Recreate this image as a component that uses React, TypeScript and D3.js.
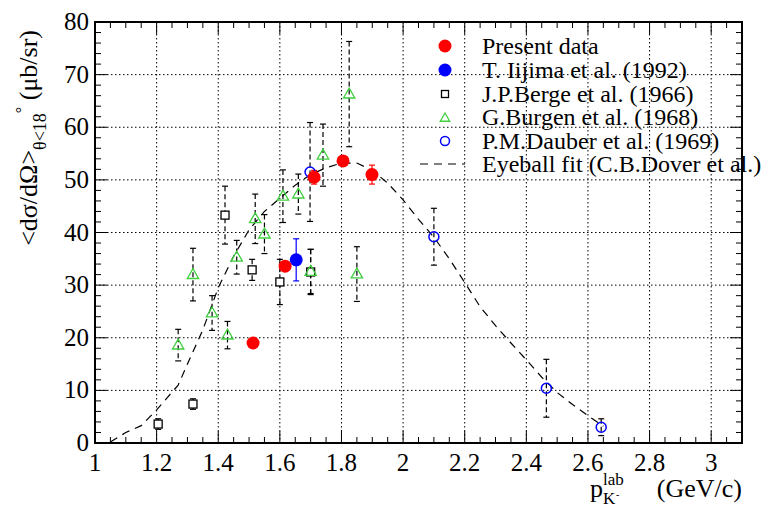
import React from "react";
import * as d3 from "d3";

// ---- Data ----
const presentX = [1.513, 1.617, 1.711, 1.805, 1.899];
const presentY = [19.0, 33.6, 50.5, 53.6, 51.0];
const presentErr = [0, 0, 1.3, 0, 1.8];

const iijimaX = [1.653];
const iijimaY = [34.8];
const iijimaErr = [4.0];

const bergeX = [1.205, 1.318, 1.422, 1.51, 1.60, 1.70];
const bergeY = [3.6, 7.4, 43.3, 32.9, 30.6, 32.5];
const bergeErr = [1.0, 1.0, 5.5, 2.0, 4.3, 4.3];

const burgenX = [1.27, 1.318, 1.38, 1.43, 1.46, 1.52, 1.55, 1.61, 1.66, 1.70, 1.74, 1.825, 1.85];
const burgenY = [18.6, 32.0, 24.7, 20.5, 35.3, 42.6, 39.7, 46.9, 47.3, 32.6, 54.7, 66.3, 32.1];
const burgenErr = [3.0, 5.0, 3.3, 2.6, 3.2, 4.7, 3.7, 5.0, 3.8, 4.2, 5.9, 10.0, 5.2];

const dauberX = [1.698, 2.10, 2.465, 2.643];
const dauberY = [51.5, 39.2, 10.4, 3.0];
const dauberErr = [9.4, 5.4, 5.5, 1.6];

const fitX = [1.05, 1.10, 1.15, 1.20, 1.27, 1.30, 1.35, 1.40, 1.45, 1.50, 1.55, 1.60, 1.65, 1.70, 1.75, 1.80, 1.85, 1.90, 1.95, 2.00, 2.05, 2.10, 2.15, 2.20, 2.25, 2.30, 2.35, 2.40, 2.45, 2.50, 2.55, 2.60, 2.65];
const fitY = [0.2, 2.0, 3.3, 6.3, 11.0, 15.0, 21.5, 29.5, 35.5, 40.5, 44.0, 46.5, 49.0, 51.0, 52.3, 53.2, 53.2, 51.8, 49.4, 46.2, 42.5, 39.1, 35.0, 30.5, 25.9, 22.3, 19.0, 15.8, 12.5, 9.6, 7.3, 5.2, 3.2];

const xTicks = [1, 1.2, 1.4, 1.6, 1.8, 2, 2.2, 2.4, 2.6, 2.8, 3];
const yTicks = [0, 10, 20, 30, 40, 50, 60, 70, 80];

const legendLabels = [
  "Present data",
  "T. Iijima et al. (1992)",
  "J.P.Berge et al. (1966)",
  "G.Burgen et al. (1968)",
  "P.M.Dauber et al. (1969)",
  "Eyeball fit (C.B.Dover et al.)",
];

const RED = "#ff0000";
const BLUE = "#0000ff";
const GREEN = "#3fcf3f";
const FONT = "Liberation Serif, Times New Roman, Times, DejaVu Serif, serif";

export default function App() {
  const W = 780, H = 508;
  const L = 95, R = 742, T = 22, B = 443;
  const x = d3.scaleLinear().domain([1, 3.1]).range([L, R]);
  const y = d3.scaleLinear().domain([0, 80]).range([B, T]);

  const xMinor = d3.range(0, 43).map((i) => 1 + i * 0.05).filter((v) => v <= 3.1 + 1e-9);
  const yMinor = d3.range(0, 41).map((i) => i * 2);

  const fitLine = d3.line<number>().x((_, i) => x(fitX[i])).y((_, i) => y(fitY[i]))(fitX) || "";

  const errBars = (xs: number[], ys: number[], es: number[], color: string, dashed: boolean, key: string) =>
    xs.map((xv, i) => {
      if (!es[i]) return null;
      const px = x(xv);
      const y1 = y(ys[i] + es[i]);
      const y2 = y(ys[i] - es[i]);
      return (
        <g key={key + i} stroke={color} strokeWidth={1.2}>
          <line x1={px} x2={px} y1={y1} y2={y2} strokeDasharray={dashed ? "5,3" : undefined} />
          <line x1={px - 3} x2={px + 3} y1={y1} y2={y1} />
          <line x1={px - 3} x2={px + 3} y1={y2} y2={y2} />
        </g>
      );
    });

  const tri = (cx: number, cy: number, s: number) =>
    `M${cx},${cy - s} L${cx + s * 0.95},${cy + s * 0.65} L${cx - s * 0.95},${cy + s * 0.65} Z`;

  const legY = [46, 70, 94, 117, 141, 164];
  const ts = { fontFamily: FONT };

  return (
    <svg width={W} height={H} style={{ position: "absolute", left: 0, top: 0, background: "#fff", fontFamily: FONT }}>
      <rect x={0} y={0} width={W} height={H} fill="#fff" />
      {/* grid */}
      <g stroke="#000" strokeWidth={1} strokeDasharray="1.5,2.5">
        {xTicks.filter((v) => v > 1 && v < 3.1).map((v) => (
          <line key={"gx" + v} x1={x(v)} x2={x(v)} y1={T} y2={B} />
        ))}
        {yTicks.filter((v) => v > 0 && v < 80).map((v) => (
          <line key={"gy" + v} x1={L} x2={R} y1={y(v)} y2={y(v)} />
        ))}
      </g>
      {/* ticks */}
      <g stroke="#000" strokeWidth={1}>
        {xMinor.map((v, i) => {
          const major = xTicks.some((t) => Math.abs(t - v) < 1e-6);
          const len = major ? 12 : 6;
          return (
            <g key={"xt" + i}>
              <line x1={x(v)} x2={x(v)} y1={B} y2={B - len} />
              <line x1={x(v)} x2={x(v)} y1={T} y2={T + len} />
            </g>
          );
        })}
        {yMinor.map((v, i) => {
          const major = v % 10 === 0;
          const len = major ? 12 : 6;
          return (
            <g key={"yt" + i}>
              <line x1={L} x2={L + len} y1={y(v)} y2={y(v)} />
              <line x1={R} x2={R - len} y1={y(v)} y2={y(v)} />
            </g>
          );
        })}
      </g>
      {/* fit line */}
      <path d={fitLine} fill="none" stroke="#000" strokeWidth={1.2} strokeDasharray="8,6" />
      {/* error bars */}
      {errBars(bergeX, bergeY, bergeErr, "#000", true, "be")}
      {errBars(burgenX, burgenY, burgenErr, "#000", true, "bu")}
      {errBars(dauberX, dauberY, dauberErr, "#000", true, "da")}
      {errBars(iijimaX, iijimaY, iijimaErr, BLUE, false, "ii")}
      {errBars(presentX, presentY, presentErr, RED, false, "pr")}
      {/* markers */}
      {bergeX.map((v, i) => (
        <rect key={"bs" + i} x={x(v) - 4} y={y(bergeY[i]) - 4} width={8} height={8} fill="#fff" stroke="#000" strokeWidth={1.3} />
      ))}
      {burgenX.map((v, i) => (
        <path key={"gt" + i} d={tri(x(v), y(burgenY[i]), 6)} fill="none" stroke={GREEN} strokeWidth={1.3} />
      ))}
      {dauberX.map((v, i) => (
        <circle key={"dc" + i} cx={x(v)} cy={y(dauberY[i])} r={5} fill="none" stroke={BLUE} strokeWidth={1.5} />
      ))}
      {iijimaX.map((v, i) => (
        <circle key={"ic" + i} cx={x(v)} cy={y(iijimaY[i])} r={6.5} fill={BLUE} />
      ))}
      {presentX.map((v, i) => (
        <circle key={"pc" + i} cx={x(v)} cy={y(presentY[i])} r={6.5} fill={RED} />
      ))}
      {/* frame */}
      <rect x={L} y={T} width={R - L} height={B - T} fill="none" stroke="#000" strokeWidth={2} />
      {/* tick labels */}
      <g fontSize={25} fill="#000" style={ts}>
        {xTicks.map((v) => (
          <text key={"xl" + v} x={x(v)} y={471} textAnchor="middle" style={ts}>{d3.format("~g")(v)}</text>
        ))}
        {yTicks.map((v) => (
          <text key={"yl" + v} x={89} y={y(v) + 8} textAnchor="end" style={ts}>{v}</text>
        ))}
      </g>
      {/* axis titles */}
      <g fill="#000" style={ts}>
        <text x={742} y={497} fontSize={26} textAnchor="end" style={ts}>(GeV/c)</text>
        <text x={590} y={497} fontSize={26} style={ts}>p</text>
        <text x={603} y={485} fontSize={17} style={ts}>lab</text>
        <text x={603} y={504} fontSize={17} style={ts}>K</text>
        <text x={616} y={498} fontSize={10} style={ts}>-</text>
        <text transform="rotate(-90)" x={-30} y={37} fontSize={26} textAnchor="end" style={ts}>
          {"<dσ/dΩ>"}
          <tspan fontSize={18} dy={9}>θ&lt;18</tspan>
          <tspan fontSize={16} dy={-19}>°</tspan>
          <tspan dy={10}>{" (μb/sr)"}</tspan>
        </text>
      </g>
      {/* legend */}
      <g>
        <circle cx={445} cy={legY[0]} r={6.5} fill={RED} />
        <circle cx={445} cy={legY[1]} r={6.5} fill={BLUE} />
        <rect x={441.5} y={legY[2] - 3.5} width={7} height={7} fill="#fff" stroke="#000" strokeWidth={1.3} />
        <path d={tri(445, legY[3] + 1, 5)} fill="none" stroke={GREEN} strokeWidth={1.3} />
        <circle cx={445} cy={legY[4]} r={4.5} fill="none" stroke={BLUE} strokeWidth={1.5} />
        <line x1={420} x2={465} y1={legY[5]} y2={legY[5]} stroke="#000" strokeWidth={1.2} strokeDasharray="8,6" />
        {legendLabels.map((t, i) => (
          <text key={"lg" + i} x={482} y={legY[i] + 8} fontSize={24} fill="#000" style={ts}>{t}</text>
        ))}
      </g>
    </svg>
  );
}
